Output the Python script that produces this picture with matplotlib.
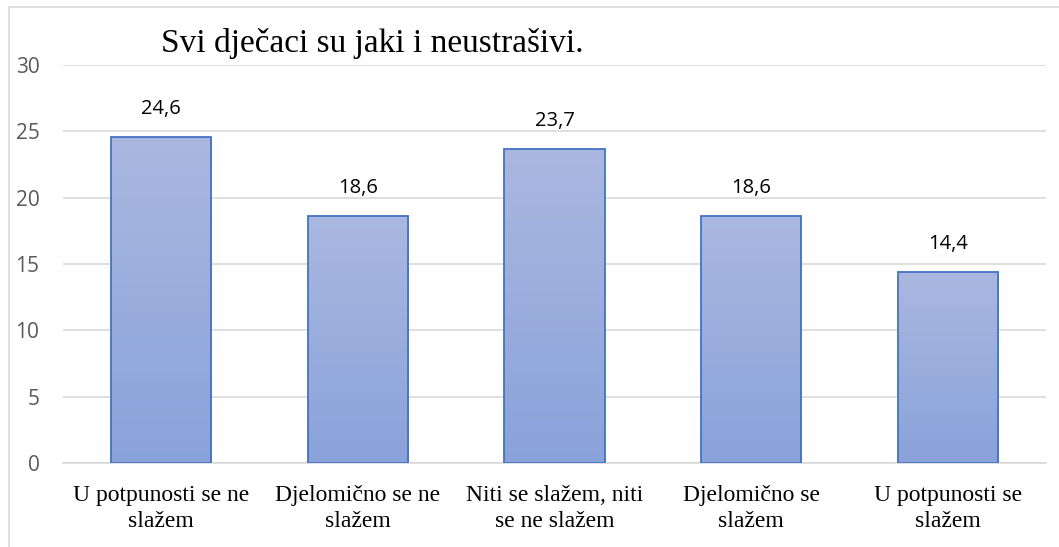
import matplotlib
matplotlib.use("Agg")
import matplotlib.pyplot as plt
import numpy as np
from matplotlib.patches import Rectangle
from matplotlib.colors import LinearSegmentedColormap

categories = ["U potpunosti se ne\nslažem", "Djelomično se ne\nslažem", "Niti se slažem, niti\nse ne slažem",
              "Djelomično se\nslažem", "U potpunosti se\nslažem"]
values = [24.6, 18.6, 23.7, 18.6, 14.4]
value_labels = ["24,6", "18,6", "23,7", "18,6", "14,4"]
yticks = [0, 5, 10, 15, 20, 25, 30]
title = "Svi dječaci su jaki i neustrašivi."

fig = plt.figure(figsize=(10.59, 5.47), dpi=100)
# outer border
fig.patches.append(Rectangle((9/1059, -0.1), 1.2, 1 - 7/547 + 0.1, transform=fig.transFigure,
                             fill=False, edgecolor="#D9D9D9", linewidth=1.2))
ax = fig.add_axes([63/1059, 1 - 463/547, 983/1059, (463 - 65)/547])
x = np.arange(len(categories))
bars = ax.bar(x, values, width=0.51, facecolor="none", edgecolor="#4472C4", linewidth=1.3, zorder=3)

grad = np.linspace(0, 1, 256).reshape(-1, 1)
cmap = LinearSegmentedColormap.from_list("g", ["#8AA2DA", "#AAB8E0"])
for b in bars:
    x0, y0 = b.get_x(), b.get_y()
    w, h = b.get_width(), b.get_height()
    im = ax.imshow(grad, extent=[x0, x0 + w, y0, y0 + h], origin="lower", cmap=cmap,
                   aspect="auto", zorder=2)
    im.set_clip_path(b)

for xi, v, lab in zip(x, values, value_labels):
    ax.annotate(lab, (xi, v), xytext=(0, 20), textcoords="offset points", ha="center", va="center",
                fontsize=14.5, family="Open Sans", color="black")

ax.set_xlim(-0.5, len(categories) - 0.5)
ax.set_ylim(0, 30)
ax.set_yticks(yticks)
ax.set_yticklabels([str(t) for t in yticks], fontsize=15, color="#595959", family="Open Sans")
ax.set_xticks(x)
ax.set_xticklabels(categories, fontsize=17, family="Liberation Serif", color="black", linespacing=1.3)
ax.tick_params(axis="both", length=0)
ax.tick_params(axis="y", pad=17)
ax.tick_params(axis="x", pad=16)
ax.grid(axis="y", color="#D9D9D9", linewidth=1.2, zorder=0)
ax.set_axisbelow(True)
for s in ["top", "right", "left"]:
    ax.spines[s].set_visible(False)
ax.spines["bottom"].set_color("#D9D9D9")
ax.spines["bottom"].set_linewidth(1.2)

fig.text(161/1059, 1 - 52/547, title, fontsize=24, family="Liberation Serif", ha="left", va="baseline")

fig.savefig("out.png", dpi=100)
